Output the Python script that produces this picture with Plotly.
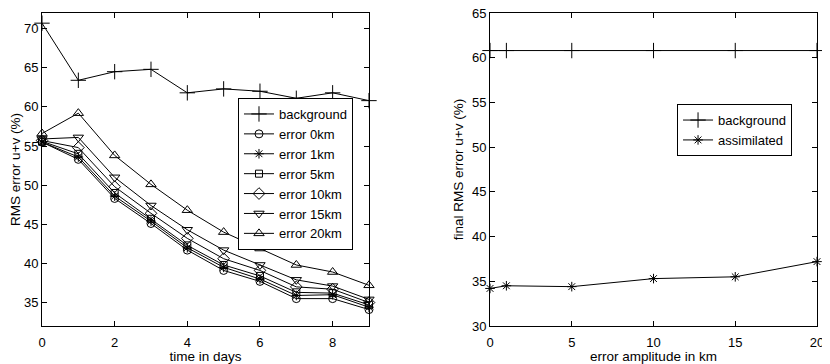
import plotly.graph_objects as go

# left panel: RMS error vs time
days = [0, 1, 2, 3, 4, 5, 6, 7, 8, 9]
bg_time = [70.7, 63.4, 64.5, 64.8, 61.8, 62.3, 62.0, 61.1, 61.8, 60.8]
err_0km = [55.5, 53.3, 48.3, 45.1, 41.7, 39.1, 37.7, 35.5, 35.5, 34.1]
err_1km = [55.5, 53.6, 48.6, 45.4, 42.0, 39.5, 38.0, 35.9, 36.0, 34.4]
err_5km = [55.6, 54.0, 49.0, 45.7, 42.3, 39.8, 38.4, 36.3, 36.2, 34.7]
err_10km = [55.7, 54.8, 49.8, 46.4, 43.2, 40.6, 39.1, 37.0, 36.7, 35.0]
err_15km = [55.9, 56.1, 51.0, 47.4, 44.3, 41.7, 39.8, 37.9, 37.1, 35.4]
err_20km = [56.6, 59.2, 53.8, 50.1, 46.8, 44.0, 41.9, 39.8, 38.9, 37.2]

# right panel: final error vs error amplitude
amplitude = [0, 1, 5, 10, 15, 20]
bg_final = [60.8, 60.8, 60.8, 60.8, 60.8, 60.8]
assimilated = [34.2, 34.5, 34.4, 35.3, 35.5, 37.2]

FONT = "Liberation Sans, Arial, sans-serif"

left_series = [
    ("background", bg_time, "cross-thin-open", 11),
    ("error 0km", err_0km, "circle-open", 8),
    ("error 1km", err_1km, "asterisk-open", 8),
    ("error 5km", err_5km, "square-open", 7),
    ("error 10km", err_10km, "diamond-open", 9),
    ("error 15km", err_15km, "triangle-down-open", 9),
    ("error 20km", err_20km, "triangle-up-open", 9),
]

fig = go.Figure()
for name, ys, sym, sz in left_series:
    fig.add_trace(go.Scatter(
        x=days, y=ys, name=name, mode="lines+markers",
        line=dict(color="black", width=1),
        marker=dict(symbol=sym, size=sz, color="black", line=dict(color="black", width=1)),
        xaxis="x", yaxis="y", legend="legend", cliponaxis=False,
    ))

fig.add_trace(go.Scatter(
    x=amplitude, y=bg_final, name="background", mode="lines+markers",
    line=dict(color="black", width=1),
    marker=dict(symbol="cross-thin-open", size=11, color="black", line=dict(color="black", width=1)),
    xaxis="x2", yaxis="y2", legend="legend2", cliponaxis=False,
))
fig.add_trace(go.Scatter(
    x=amplitude, y=assimilated, name="assimilated", mode="lines+markers",
    line=dict(color="black", width=1),
    marker=dict(symbol="asterisk-open", size=8, color="black", line=dict(color="black", width=1)),
    xaxis="x2", yaxis="y2", legend="legend2", cliponaxis=False,
))

_ax = dict(showline=True, linecolor="black", linewidth=1, mirror="ticks", automargin=False,
           ticks="inside", ticklen=5, tickcolor="black", showgrid=False, zeroline=False,
           ticklabeloverflow="allow",
           tickfont=dict(size=13, color="black"), title_font=dict(size=13.5, color="black"))
_xt = dict(ticklabelstandoff=4)

# page body keeps its default 8px margin, so the figure is 8px smaller each way
fig.update_layout(
    xaxis=dict(domain=[0, 0.4219], range=[0, 9], tickvals=[0, 2, 4, 6, 8],
               title=dict(text="time in days", standoff=3), anchor="y", **_xt, **_ax),
    yaxis=dict(domain=[0, 1], range=[32, 72], tickvals=[35, 40, 45, 50, 55, 60, 65, 70],
               title=dict(text="RMS error u+v (%)", standoff=6), anchor="x", **_ax),
    xaxis2=dict(domain=[0.5781, 1], range=[0, 20], tickvals=[0, 5, 10, 15, 20],
                title=dict(text="error amplitude in km", standoff=3), anchor="y2", **_xt, **_ax),
    yaxis2=dict(domain=[0, 1], range=[30, 65], tickvals=[30, 35, 40, 45, 50, 55, 60, 65],
                title=dict(text="final RMS error u+v (%)", standoff=5), anchor="x2", **_ax),
    legend=dict(x=0.2529, y=0.7284, xanchor="left", yanchor="top", bgcolor="white",
                bordercolor="black", borderwidth=1, font=dict(size=13, color="black"),
                tracegroupgap=0),
    legend2=dict(x=0.8194, y=0.709, xanchor="left", yanchor="top", bgcolor="white",
                 bordercolor="black", borderwidth=1, font=dict(size=13, color="black")),
    width=822, height=356,
    margin=dict(l=34, r=13, t=5, b=38),
    plot_bgcolor="white", paper_bgcolor="white",
    font=dict(family=FONT, size=13, color="black"),
    showlegend=True,
)

fig.write_html("out.html")
